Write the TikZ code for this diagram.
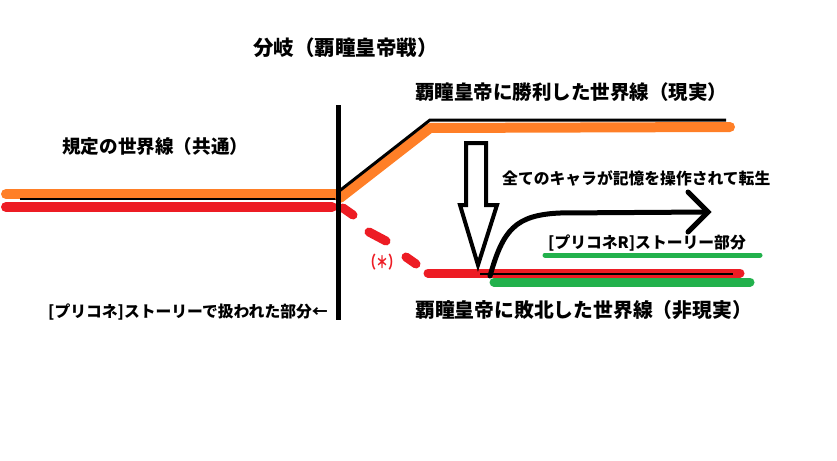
\documentclass[tikz,border=0pt]{standalone}
\usepackage{fontspec}
\newfontfamily\jp{Noto Sans CJK JP}
\definecolor{porange}{RGB}{255,127,39}
\definecolor{pred}{RGB}{237,28,36}
\definecolor{pgreen}{RGB}{34,177,76}
\begin{document}
\begin{tikzpicture}[x=1pt,y=-1pt,
  lbl/.style={inner sep=0pt,anchor=west,font=\jp\bfseries},
  big/.style={lbl,font=\jp\bfseries\fontsize{19.5}{20}\selectfont},
  small/.style={lbl,font=\jp\bfseries\fontsize{15.8}{16}\selectfont},
  thick band/.style={line width=10pt,line cap=round,line join=round},
  thin black/.style={line width=3pt,black,line join=miter},
  bigarrow/.style={draw=black,line width=4pt,fill=white,line join=miter},
  flowline/.style={line width=5pt,black,line cap=round,line join=miter}]
\useasboundingbox (0,0) rectangle (837,460);
% coordinates
\coordinate (cL) at (6,194);
\coordinate (cR) at (338,194);
\coordinate (rL) at (6,207);
\coordinate (rR) at (332,207);
\coordinate (bL) at (20,199);
\coordinate (bR) at (338,199);
\coordinate (vT) at (338,105);
\coordinate (vB) at (338,320);
\coordinate (uA) at (340,198);
\coordinate (uB) at (430,128);
\coordinate (uC) at (730,127);
\coordinate (kA) at (338,192);
\coordinate (kB) at (430,120);
\coordinate (kC) at (726,120);
\coordinate (d1a) at (343,208); \coordinate (d1b) at (353,215);
\coordinate (d2a) at (369,232); \coordinate (d2b) at (386,241);
\coordinate (d3a) at (406,257); \coordinate (d3b) at (416,264);
\coordinate (lrA) at (428,273);
\coordinate (lrB) at (740,273);
\coordinate (lkA) at (480,274);
\coordinate (lkB) at (733,274);
\coordinate (lgA) at (494,282);
\coordinate (lgB) at (750,282);
\coordinate (sgA) at (545,255);
\coordinate (sgB) at (760,255);
\coordinate (cS) at (490,276);
\coordinate (cE) at (708,212);
\coordinate (hT) at (688,192);
\coordinate (hB) at (688,232);
% common line
\draw[thick band,porange] (cL) -- (cR);
\draw[thin black,line width=2pt] (bL) -- (bR);
\draw[thick band,pred] (rL) -- (rR);
% upper branch
\draw[thick band,porange] (uA) -- (uB) -- (uC);
\draw[thin black] (kA) -- (kB) -- (kC);
% red dashes
\draw[thick band,pred,line width=9pt] (d1a) -- (d1b);
\draw[thick band,pred,line width=9pt] (d2a) -- (d2b);
\draw[thick band,pred,line width=9pt] (d3a) -- (d3b);
% lower line
\draw[thick band,pred,line width=9pt] (lrA) -- (lrB);
\draw[thin black,line width=2pt] (lkA) -- (lkB);
\draw[thick band,pgreen,line width=9pt] (lgA) -- (lgB);
\draw[line width=5pt,pgreen,line cap=round] (sgA) -- (sgB);
% vertical divider
\draw[line width=5pt,black] (vT) -- (vB);
% hollow arrow
\draw[bigarrow] (466,143) -- (486,143) -- (486,205) -- (497,205) -- (478,265) -- (460,205) -- (466,205) -- cycle;
% curved arrow
\draw[flowline] (cS) .. controls (503,230) and (515,215) .. (560,213) -- (cE);
\draw[flowline] (hT) -- (cE) -- (hB);
% labels
\node[lbl,font=\jp\bfseries\fontsize{20.5}{21}\selectfont] (branch) at (253,48) {分岐（覇瞳皇帝戦）};
\node[big] (win) at (415,92) {覇瞳皇帝に勝利した世界線（現実）};
\node[lbl,font=\jp\bfseries\fontsize{18.6}{19}\selectfont] (common) at (62,146) {規定の世界線（共通）};
\node[small] (reborn) at (502,178) {全てのキャラが記憶を操作されて転生};
\node[small] (pr) at (548,243) {[プリコネR]ストーリー部分};
\node[lbl,font=\jp\bfseries\fontsize{12}{12}\selectfont,text=pred] (star) at (364,262) {\scalebox{1}[1.4]{（＊）}};
\node[small] (pc) at (48,312) {[プリコネ]ストーリーで扱われた部分←};
\node[big,font=\jp\bfseries\fontsize{19.8}{20}\selectfont] (lose) at (415,310) {覇瞳皇帝に敗北した世界線（非現実）};
\end{tikzpicture}
\end{document}
